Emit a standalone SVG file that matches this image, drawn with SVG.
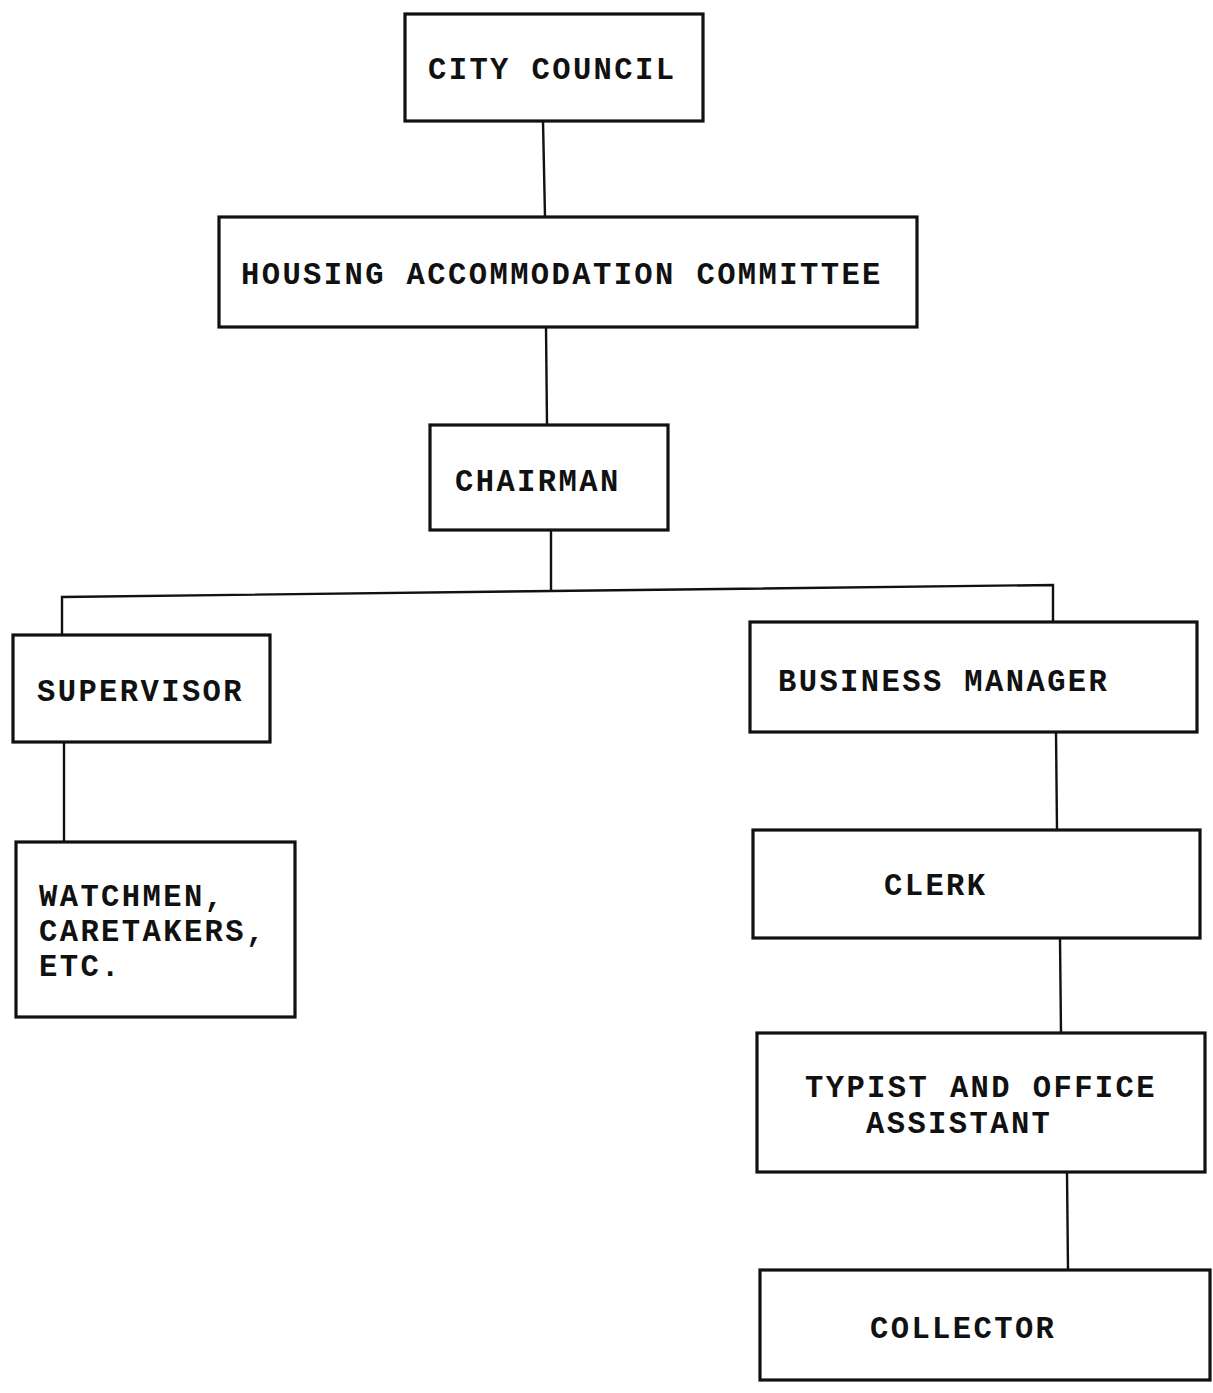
<svg xmlns="http://www.w3.org/2000/svg" width="1213" height="1393" viewBox="0 0 1213 1393">
<style>
.box{fill:#fff;stroke:#111;stroke-width:3.2}
.ln{fill:none;stroke:#111;stroke-width:2.4}
text{font-family:"Liberation Mono","Courier New",monospace;font-weight:bold;font-size:30.5px;letter-spacing:2.4px;fill:#111}
</style>
<rect width="1213" height="1393" fill="#fff"/>
<g id="connectors">
<polyline class="ln" points="543,121 545,217"/>
<polyline class="ln" points="546,327 547,425"/>
<polyline class="ln" points="551,530 551,591"/>
<polyline class="ln" points="62,635 62,597 551,591 1053,585 1053,622"/>
<polyline class="ln" points="64,742 64,842"/>
<polyline class="ln" points="1056,732 1057,830"/>
<polyline class="ln" points="1060,938 1061,1033"/>
<polyline class="ln" points="1067,1172 1068,1270"/>
</g>
<g id="city-council">
<rect class="box" x="405" y="14" width="298" height="107"/>
<text x="428" y="79">CITY COUNCIL</text>
</g>
<g id="housing-committee">
<rect class="box" x="219" y="217" width="698" height="110"/>
<text x="241" y="284">HOUSING ACCOMMODATION COMMITTEE</text>
</g>
<g id="chairman">
<rect class="box" x="430" y="425" width="238" height="105"/>
<text x="455" y="491">CHAIRMAN</text>
</g>
<g id="supervisor">
<rect class="box" x="13" y="635" width="257" height="107"/>
<text x="37" y="701">SUPERVISOR</text>
</g>
<g id="watchmen">
<rect class="box" x="16" y="842" width="279" height="175"/>
<text x="39" y="906">WATCHMEN,</text>
<text x="39" y="941">CARETAKERS,</text>
<text x="39" y="976">ETC.</text>
</g>
<g id="business-manager">
<rect class="box" x="750" y="622" width="447" height="110"/>
<text x="778" y="691">BUSINESS MANAGER</text>
</g>
<g id="clerk">
<rect class="box" x="753" y="830" width="447" height="108"/>
<text x="884" y="895">CLERK</text>
</g>
<g id="typist">
<rect class="box" x="757" y="1033" width="448" height="139"/>
<text x="805" y="1097">TYPIST AND OFFICE</text>
<text x="866" y="1133">ASSISTANT</text>
</g>
<g id="collector">
<rect class="box" x="760" y="1270" width="450" height="110"/>
<text x="870" y="1338">COLLECTOR</text>
</g>
</svg>
